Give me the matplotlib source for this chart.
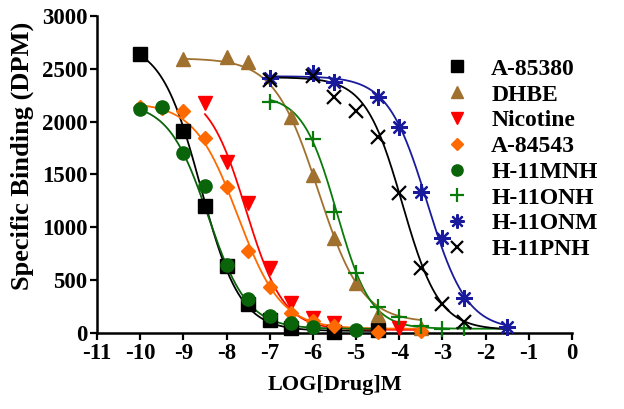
import numpy as np
import matplotlib
matplotlib.use("Agg")
import matplotlib.pyplot as plt
from matplotlib.lines import Line2D

plt.rcParams['font.family'] = ['Liberation Serif', 'DejaVu Serif']
plt.rcParams['font.weight'] = 'bold'
plt.rcParams['axes.unicode_minus'] = False

# ---- data ----
names = ["A-85380", "DHBE", "Nicotine", "A-84543", "H-11MNH", "H-11ONH", "H-11ONM", "H-11PNH"]

x_a85380 = [-10, -9, -8.5, -8, -7.5, -7, -6.5, -5.5, -4.5]
y_a85380 = [2640, 1910, 1200, 630, 270, 120, 50, 10, 25]

x_dhbe = [-9, -8, -7.5, -6.5, -6, -5.5, -5, -4.5, -3.5]
y_dhbe = [2590, 2610, 2565, 2045, 1495, 900, 475, 170, 45]

x_nic = [-8.5, -8, -7.5, -7, -6.5, -6, -5.5, -4]
y_nic = [2180, 1620, 1230, 615, 285, 140, 95, 45]

x_a84543 = [-10, -9.5, -9, -8.5, -8, -7.5, -7, -6.5, -6, -5.5, -4.5, -3.5]
y_a84543 = [2140, 2130, 2100, 1850, 1380, 780, 440, 190, 110, 65, 10, 20]

x_mnh = [-10, -9.5, -9, -8.5, -8, -7.5, -7, -6.5, -6, -5]
y_mnh = [2120, 2140, 1700, 1390, 640, 320, 165, 95, 57, 30]

x_onh = [-7, -6, -5.5, -5, -4.5, -4, -3.5, -3, -2.5]
y_onh = [2190, 1835, 1145, 570, 245, 150, 65, 40, 45]

x_onm = [-7, -6, -5.5, -4.5, -4, -3.5, -3, -2.5, -1.5]
y_onm = [2410, 2465, 2380, 2235, 1950, 1335, 900, 330, 55]

x_pnh = [-7, -6, -5.5, -5, -4.5, -4, -3.5, -3, -2.5]
y_pnh = [2395, 2430, 2235, 2100, 1855, 1325, 615, 275, 105]

# fitted sigmoid parameters (top, bottom, logIC50, hill slope)
fit_top = [2750, 2600, 2300, 2180, 2180, 2250, 2430, 2420]
fit_bottom = [20, 100, 30, 40, 40, 40, 30, 30]
fit_logic50 = [-8.6, -5.88, -7.55, -7.74, -8.43, -5.45, -3.35, -3.93]
fit_hill = [0.95, 0.857, 1.0, 0.862, 0.949, 1.1, 0.95, 1.017]
fit_xmin = [-10, -9, -8.5, -10, -10, -7, -7, -7]
fit_xmax = [-4.5, -3.5, -3.5, -3.5, -4.5, -1.5, -1.5, -1.5]

xs = [x_a85380, x_dhbe, x_nic, x_a84543, x_mnh, x_onh, x_onm, x_pnh]
ys = [y_a85380, y_dhbe, y_nic, y_a84543, y_mnh, y_onh, y_onm, y_pnh]

colors = ["#000000", "#A0702E", "#FF0000", "#FF6A00", "#0A640A", "#0A7A0A", "#1A1A9C", "#000000"]
markers = ["s", "^", "v", "D", "o", "+", (8, 2, 0), "x"]
msizes = [10, 10, 10, 7.5, 9.5, 12, 12, 10]
mews = [1, 1, 1, 1, 1, 1.6, 1.6, 1.6]

fig = plt.figure(figsize=(6.24, 4.09), dpi=100)
ax = fig.add_axes([0.1554, 0.1858, 0.9167 - 0.1554, 0.9609 - 0.1858])

handles = []
for i in range(len(names)):
    xc = np.linspace(fit_xmin[i], fit_xmax[i], 300)
    yc = fit_bottom[i] + (fit_top[i] - fit_bottom[i]) / (1 + 10 ** ((xc - fit_logic50[i]) * fit_hill[i]))
    ax.plot(xc, yc, color=colors[i], lw=1.3, zorder=2)
for i in range(len(names)):
    ax.plot(xs[i], ys[i], linestyle="none", marker=markers[i], ms=msizes[i],
            color=colors[i], mec=colors[i], mew=mews[i], zorder=3, clip_on=False)
    handles.append(Line2D([], [], linestyle="none", marker=markers[i], ms=msizes[i] * 0.85,
                          color=colors[i], mec=colors[i], mew=mews[i]))

ax.set_xlim(-11, 0)
ax.set_ylim(0, 3000)
ax.set_xticks(range(-11, 1))
ax.set_yticks(range(0, 3001, 500))
for s in ["top", "right"]:
    ax.spines[s].set_visible(False)
for s in ["left", "bottom"]:
    ax.spines[s].set_linewidth(1.8)
ax.tick_params(direction="out", length=5, width=1.6, labelsize=16.5, pad=2)
for lab in ax.get_xticklabels() + ax.get_yticklabels():
    lab.set_fontweight("bold")

ax.set_xlabel("LOG[Drug]M", fontsize=16, fontweight="bold", labelpad=8)
ax.set_ylabel("Specific Binding (DPM)", fontsize=19, fontweight="bold")
ax.yaxis.set_label_coords(-0.133, 0.56)

leg = ax.legend(handles, names, loc="upper left", bbox_to_anchor=(0.709, 0.904),
                frameon=False, fontsize=17, handlelength=1.0, handletextpad=0.93,
                labelspacing=0.18, borderpad=0)
for t in leg.get_texts():
    t.set_fontweight("bold")

fig.savefig("out.png", dpi=100)
